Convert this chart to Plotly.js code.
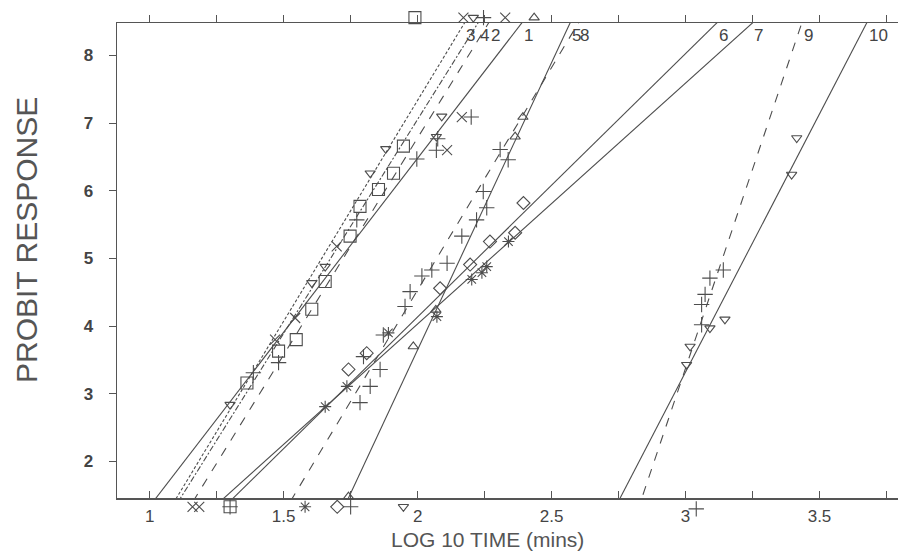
<!DOCTYPE html>
<html>
<head>
<meta charset="utf-8">
<script src="https://cdn.plot.ly/plotly-3.0.1.min.js"></script>
<style>html,body{margin:0;padding:0;background:#fff;}#chart{width:898px;height:554px;}</style>
</head>
<body>
<div id="chart"></div>
<script>
// ---- data ----
var seriesNames = ["1","2","3","4","5","6","7","8","9","10"];
// probit fit of each series: log10 time at probit 5 and slope
var fitLT50  = [1.712, 1.722, 1.642, 1.675, 2.159, 2.222, 2.272, 2.071, 3.138, 3.220];
var fitSlope = [5.143, 6.411, 6.530, 6.324, 8.488, 3.891, 3.560, 6.579, 11.76, 7.63];
// observed points (log10 time, probit); 8.56 / 1.33 = 100% / 0% responses plotted at frame edge
var obs1x = [1.468, 1.543, 1.698, 2.110, 2.165, 2.171, 2.327, 1.160, 1.185];
var obs1y = [3.80, 4.12, 5.18, 6.60, 7.09, 8.56, 8.56, 1.33, 1.33];
var obs2x = [1.387, 1.481, 1.773, 1.997, 2.070, 2.075, 2.200, 2.246, 1.300];
var obs2y = [3.31, 3.46, 5.57, 6.47, 6.60, 6.77, 7.09, 8.56, 1.33];
var obs3x = [1.300, 1.605, 1.655, 1.823, 1.881, 2.070, 2.090, 2.208];
var obs3y = [2.84, 4.64, 4.88, 6.26, 6.62, 6.80, 7.10, 8.56];
var obs4x = [1.363, 1.481, 1.547, 1.605, 1.655, 1.748, 1.785, 1.854, 1.910, 1.947, 1.990, 1.300];
var obs4y = [3.16, 3.63, 3.80, 4.25, 4.66, 5.33, 5.77, 6.02, 6.26, 6.66, 8.56, 1.33];
var obs5x = [1.742, 1.984, 2.068, 2.364, 2.393, 2.435];
var obs5y = [1.48, 3.70, 4.24, 6.80, 7.09, 8.56];
var obs6x = [1.742, 1.810, 2.084, 2.196, 2.270, 2.364, 2.395, 1.700];
var obs6y = [3.36, 3.60, 4.56, 4.91, 5.25, 5.38, 5.82, 1.33];
var obs7x = [1.655, 1.736, 1.891, 2.072, 2.202, 2.240, 2.258, 2.339, 1.580];
var obs7y = [2.81, 3.11, 3.90, 4.14, 4.69, 4.79, 4.88, 5.25, 1.33];
var obs8x = [1.785, 1.798, 1.823, 1.860, 1.872, 1.953, 1.972, 2.016, 2.053, 2.110, 2.165, 2.220, 2.245, 2.258, 2.308, 2.338, 1.750];
var obs8y = [2.87, 3.55, 3.11, 3.36, 3.87, 4.29, 4.51, 4.74, 4.83, 4.93, 5.33, 5.57, 5.99, 5.75, 6.61, 6.46, 1.33];
var obs9x = [3.060, 3.060, 3.073, 3.091, 3.141, 3.040];
var obs9y = [4.02, 4.32, 4.47, 4.71, 4.83, 1.30];
var obs10x = [3.004, 3.017, 3.091, 3.147, 3.396, 3.415, 1.947];
var obs10y = [3.43, 3.70, 3.97, 4.10, 6.24, 6.78, 1.33];
var xTickVals = [1, 1.25, 1.5, 1.75, 2, 2.25, 2.5, 2.75, 3, 3.25, 3.5, 3.75];
var xTickText = ["1", "", "1.5", "", "2", "", "2.5", "", "3", "", "3.5", ""];
var yTickVals = [2, 3, 4, 5, 6, 7, 8];
var xTitle = "LOG 10 TIME (mins)";
var yTitle = "PROBIT RESPONSE";

// ---- styling / geometry ----
var obsX = [obs1x, obs2x, obs3x, obs4x, obs5x, obs6x, obs7x, obs8x, obs9x, obs10x];
var obsY = [obs1y, obs2y, obs3y, obs4y, obs5y, obs6y, obs7y, obs8y, obs9y, obs10y];
var symbols = ["x-thin-open", "cross-thin-open", "triangle-down-open", "square-open", "triangle-up-open",
               "diamond-open", "asterisk-open", "cross-thin-open", "cross-thin-open", "triangle-down-open"];
var sizes = [10, 11, 9, 12, 9, 10, 10, 11, 11, 9];
var dashes = ["solid", "dash", "3px,2px", "6px,2px,2px,2px", "solid", "solid", "solid", "dash", "dash", "solid"];
var ink = "#4d4d4d";
var fontFam = "Liberation Sans, Arial, sans-serif";
var xRange = [0.878, 3.793];
var yRange = [1.46, 8.48];
var W = 898, H = 554, mL = 117, mR = 0, mT = 0, mB = 40;
var plotTopPx = 23, plotBotPx = 498;            // frame of the chart in page pixels
var areaW = W - mL - mR, areaH = H - mT - mB;
var yDomain = [(H - mB - plotBotPx) / areaH, (H - mB - plotTopPx) / areaH];
var unitPerPx = (yRange[1] - yRange[0]) / (plotBotPx - plotTopPx);
// invisible full-height axis with identical scale, so edge markers (0% / 100%) can sit outside the frame
var yFullRange = [yRange[0] - (H - mB - plotBotPx) * unitPerPx, yRange[1] + (plotTopPx - mT) * unitPerPx];

var traces = [];
var annotations = [];
for (var i = 0; i < seriesNames.length; i++) {
  var pLo = 0.5, pHi = 9.5;
  traces.push({
    type: "scatter", mode: "lines", showlegend: false, hoverinfo: "skip",
    x: [fitLT50[i] + (pLo - 5) / fitSlope[i], fitLT50[i] + (pHi - 5) / fitSlope[i]],
    y: [pLo, pHi],
    line: {color: ink, width: 1.1, dash: dashes[i]}
  });
  traces.push({
    type: "scatter", mode: "markers", showlegend: false, cliponaxis: false,
    x: obsX[i], y: obsY[i], yaxis: "y3",
    marker: {symbol: symbols[i], size: sizes[i], color: ink, line: {color: ink, width: 1.1}}
  });
  annotations.push({
    x: fitLT50[i] + (yRange[1] - 5) / fitSlope[i], y: yRange[1],
    xref: "x", yref: "y", xanchor: "left", yanchor: "top",
    xshift: 0, yshift: -1, showarrow: false,
    text: seriesNames[i], font: {family: fontFam, size: 17, color: "#444"}
  });
}
annotations.push({
  xref: "paper", x: (487 - mL) / areaW, yref: "paper", y: (H - mB - 539) / areaH,
  xanchor: "center", yanchor: "middle", showarrow: false,
  text: xTitle, font: {family: fontFam, size: 21, color: "#555"}
});
annotations.push({
  xref: "paper", x: (26 - mL) / areaW, yref: "paper", y: (H - mB - 240) / areaH,
  xanchor: "center", yanchor: "middle", showarrow: false, textangle: -90,
  text: yTitle, font: {family: fontFam, size: 30, color: "#555"}
});

// dummy trace for the top axis
traces.push({type: "scatter", mode: "markers", x: [xRange[0]], y: [yRange[0]], xaxis: "x2",
             marker: {opacity: 0}, showlegend: false, hoverinfo: "skip"});

var layout = {
  width: W, height: H,
  margin: {l: mL, r: mR, t: mT, b: mB},
  paper_bgcolor: "#fff", plot_bgcolor: "rgba(0,0,0,0)",
  font: {family: fontFam, color: "#444"},
  showlegend: false,
  xaxis: {
    range: xRange, tickmode: "array", tickvals: xTickVals, ticktext: xTickText, anchor: "y",
    ticks: "inside", ticklen: 7, tickwidth: 1.2, tickcolor: "#555",
    showline: true, linecolor: "#555", linewidth: 1.5,
    showgrid: false, zeroline: false, ticklabelstandoff: 2,
    tickfont: {size: 17, color: "#444"}
  },
  xaxis2: {
    range: xRange, overlaying: "x", side: "top", anchor: "y", tickmode: "array", tickvals: xTickVals,
    showticklabels: false, ticks: "outside", ticklen: 7, tickwidth: 1.2, tickcolor: "#555",
    showline: true, linecolor: "#555", linewidth: 1.5, showgrid: false, zeroline: false
  },
  yaxis: {
    range: yRange, domain: yDomain, anchor: "x", tickmode: "array", tickvals: yTickVals,
    ticktext: yTickVals.map(function (v) { return "<b>" + v + "</b>"; }),
    ticks: "outside", ticklen: 7, tickwidth: 1.2, tickcolor: "#555",
    showline: true, linecolor: "#555", linewidth: 1.5,
    showgrid: false, zeroline: false, ticklabelstandoff: 12,
    tickfont: {size: 17, color: "#444"}
  },
  yaxis3: {
    range: yFullRange, domain: [0, 1], anchor: "x", visible: false,
    showgrid: false, zeroline: false, fixedrange: true
  },
  annotations: annotations
};
Plotly.newPlot("chart", traces, layout, {staticPlot: true, displayModeBar: false});
</script>
</body>
</html>
